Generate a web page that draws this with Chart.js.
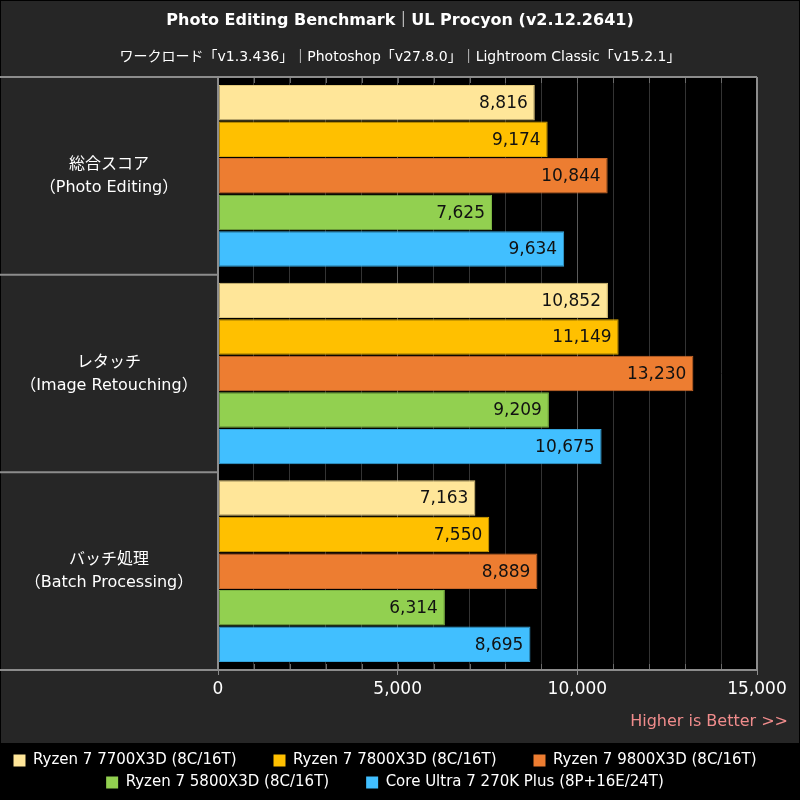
<!DOCTYPE html>
<html>
<head>
<meta charset="utf-8">
<script src="https://cdn.jsdelivr.net/npm/chart.js@4"></script>
<style>
  html, body { margin: 0; padding: 0; background: #000; }
  #wrap { width: 800px; height: 800px; }
</style>
</head>
<body>
<div id="wrap"><canvas id="canvas" width="800" height="800"></canvas></div>
<script>
// data
var categories = [
    ['総合スコア', '（Photo Editing）'],
    ['レタッチ', '（Image Retouching）'],
    ['バッチ処理', '（Batch Processing）']
];
var r7700 = [8816, 10852, 7163];
var r7800 = [9174, 11149, 7550];
var r9800 = [10844, 13230, 8889];
var r5800 = [7625, 9209, 6314];
var u270 = [9634, 10675, 8695];

var seriesNames = [
    'Ryzen 7 7700X3D (8C/16T)',
    'Ryzen 7 7800X3D (8C/16T)',
    'Ryzen 7 9800X3D (8C/16T)',
    'Ryzen 7 5800X3D (8C/16T)',
    'Core Ultra 7 270K Plus (8P+16E/24T)'
];
var xTicks = [0, 5000, 10000, 15000];

var titleText = 'Photo Editing Benchmark｜UL Procyon (v2.12.2641)';
var subText = 'ワークロード「v1.3.436」｜Photoshop「v27.8.0」｜Lightroom Classic「v15.2.1」';
var noteText = 'Higher is Better >>';

var FONT = '"DejaVu Sans", "Noto Sans CJK JP", sans-serif';
var fills = ['#FFE699', '#FFC000', '#ED7D31', '#92D050', '#41BFFF'];
var edges = ['#e0c77a', '#dca600', '#c9682a', '#7cb543', '#35a3da'];

function fmt(v) {
    return v.toLocaleString('en-US');
}

var allSeries = [r7700, r7800, r9800, r5800, u270];
var datasets = allSeries.map(function(d, i) {
    return {
        label: seriesNames[i],
        data: d,
        backgroundColor: fills[i],
        borderColor: edges[i],
        borderWidth: 1,
        borderSkipped: false,
        barPercentage: 0.97,
        categoryPercentage: 0.925
    };
});

var decor = {
    id: 'decor',
    beforeDraw: function(chart) {
        const ctx = chart.ctx;
        const a = chart.chartArea;
        ctx.save();
        ctx.fillStyle = '#000';
        ctx.fillRect(0, 0, 800, 800);
        ctx.fillStyle = '#262626';
        ctx.fillRect(1, 1, 798, 742);
        ctx.fillStyle = '#000';
        ctx.fillRect(a.left, a.top, a.right - a.left, a.bottom - a.top);
        ctx.restore();
    },
    afterDatasetsDraw: function(chart) {
        const ctx = chart.ctx;
        const a = chart.chartArea;
        const xs = chart.scales.x;
        const ys = chart.scales.y;
        ctx.save();

        // value labels at the end of each bar
        ctx.font = '17px ' + FONT;
        ctx.fillStyle = '#111';
        ctx.textAlign = 'right';
        ctx.textBaseline = 'middle';
        chart.data.datasets.forEach(function(ds, di) {
            chart.getDatasetMeta(di).data.forEach(function(bar, j) {
                ctx.fillText(fmt(ds.data[j]), bar.x - 7, bar.y + 1);
            });
        });

        // short inner tick marks
        ctx.strokeStyle = '#6a6a6a';
        ctx.lineWidth = 1;
        xs.ticks.forEach(function(t) {
            const px = Math.round(xs.getPixelForValue(t.value)) + 0.5;
            ctx.beginPath();
            ctx.moveTo(px, a.top); ctx.lineTo(px, a.top + 6);
            ctx.moveTo(px, a.bottom); ctx.lineTo(px, a.bottom - 6);
            ctx.stroke();
        });

        // category separators and plot frame
        ctx.strokeStyle = '#8c8c8c';
        ctx.lineWidth = 2;
        for (let i = 0; i <= categories.length; i++) {
            const py = ys.getPixelForValue(i - 0.5);
            ctx.beginPath();
            ctx.moveTo(0, py);
            ctx.lineTo((i === 0 || i === categories.length) ? a.right : a.left, py);
            ctx.stroke();
        }
        ctx.beginPath();
        ctx.moveTo(a.left, a.top); ctx.lineTo(a.left, a.bottom);
        ctx.moveTo(a.right, a.top); ctx.lineTo(a.right, a.bottom);
        ctx.stroke();

        // category labels, centered in the left column
        ctx.fillStyle = '#fff';
        ctx.textAlign = 'center';
        ctx.font = '16px ' + FONT;
        categories.forEach(function(lines, i) {
            const cy = ys.getPixelForValue(i);
            ctx.fillText(lines[0], a.left / 2, cy - 11);
            ctx.fillText(lines[1], a.left / 2, cy + 12);
        });

        // title and subtitle
        ctx.font = 'bold 16px ' + FONT;
        ctx.fillText(titleText, 400, 21);
        ctx.font = '14px ' + FONT;
        ctx.fillText(subText, 400, 57);

        // note under the axis
        ctx.fillStyle = '#F08C8C';
        ctx.textAlign = 'right';
        ctx.font = '16px ' + FONT;
        ctx.fillText(noteText, 788, 722);
        ctx.restore();
    }
};

const ctx = document.getElementById('canvas');
const myChart = new Chart(ctx, {
    type: 'bar',
    data: {
        labels: categories,
        datasets: datasets
    },
    options: {
        indexAxis: 'y',
        responsive: false,
        animation: false,
        layout: {
            padding: { left: 0, right: 0, top: 77, bottom: 0 }
        },
        scales: {
            x: {
                min: 0,
                max: 15000,
                ticks: {
                    stepSize: 1000,
                    autoSkip: false,
                    maxRotation: 0,
                    color: '#fff',
                    padding: 4,
                    font: { family: FONT, size: 17 },
                    callback: function(v) {
                        return xTicks.indexOf(v) >= 0 ? fmt(v) : '';
                    }
                },
                grid: {
                    color: function(c) {
                        return (c.tick && c.tick.value % 5000 === 0) ? '#5a5a5a' : '#333';
                    },
                    tickColor: function(c) {
                        return (c.tick && c.tick.value % 5000 === 0) ? '#8c8c8c' : 'rgba(0,0,0,0)';
                    },
                    tickLength: 5,
                    lineWidth: 1
                },
                border: { display: false },
                afterFit: function(scale) { scale.height = 76; }
            },
            y: {
                ticks: { display: false },
                grid: { display: false },
                border: { display: false },
                afterFit: function(scale) { scale.width = 218; }
            },
            // empty right-hand axis, only keeps room right of the plot
            yRight: {
                type: 'category',
                position: 'right',
                ticks: { display: false },
                grid: { display: false },
                border: { display: false },
                afterFit: function(scale) { scale.width = 43; }
            }
        },
        plugins: {
            legend: {
                position: 'bottom',
                labels: {
                    color: '#fff',
                    boxWidth: 12,
                    boxHeight: 12,
                    padding: 7,
                    font: { family: FONT, size: 15 },
                    generateLabels: function(chart) {
                        return Chart.defaults.plugins.legend.labels.generateLabels(chart).map(function(l) {
                            l.text = l.text + '\u2003\u2003';
                            l.lineWidth = 0;
                            return l;
                        });
                    }
                }
            },
            tooltip: { enabled: false }
        }
    },
    plugins: [decor]
});
</script>
</body>
</html>
